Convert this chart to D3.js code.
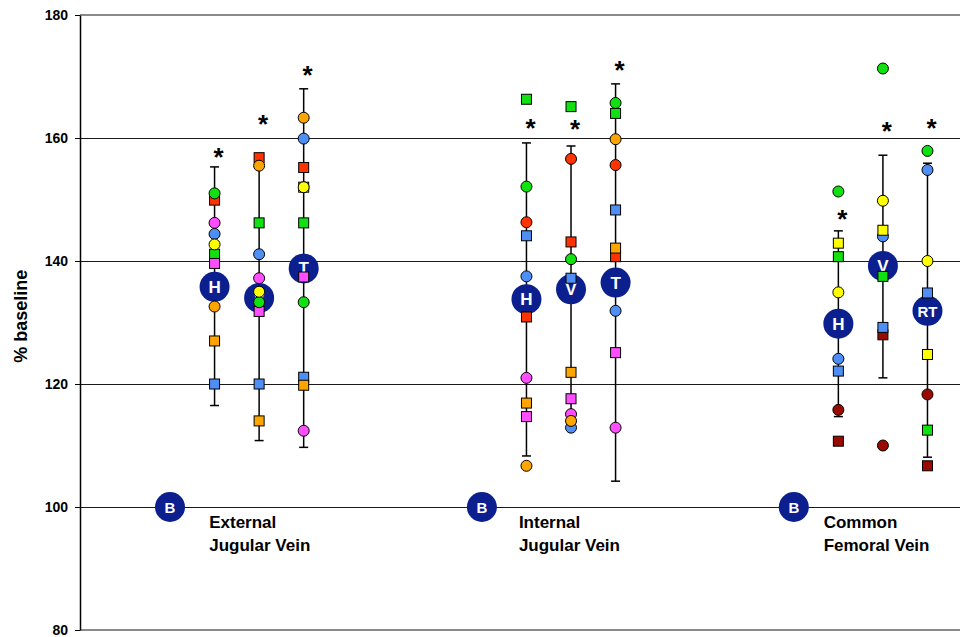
<!DOCTYPE html>
<html>
<head>
<meta charset="utf-8">
<script src="https://cdn.jsdelivr.net/npm/d3@7"></script>
<style>
  html, body { margin: 0; padding: 0; background: #fff; }
  svg { display: block; font-family: "Liberation Sans", Arial, sans-serif; }
</style>
</head>
<body>
<svg id="chart" width="960" height="637"></svg>
<script>
// ---------------- DATA ----------------
const groupNames = [["External", "Jugular Vein"], ["Internal", "Jugular Vein"], ["Common", "Femoral Vein"]];
const columnLabels = ["H", "V", "T", "H", "V", "T", "H", "V", "RT"];
const yTicks = [80, 100, 120, 140, 160, 180];
const baselineValue = 100;

const meanValues = [135.8, 134.0, 138.8, 133.8, 135.4, 136.5, 129.8, 139.2, 131.9];
const errorTop    = [155.3, 156.8, 168.0, 159.2, 158.7, 168.8, 144.9, 157.2, 155.9];
const errorBottom = [116.5, 110.8, 109.7, 108.3, 113.0, 104.2, 114.7, 121.0, 108.1];
const starValues  = [157.7, 163.1, 171.1, 162.4, 162.3, 171.9, 147.6, 162.0, 162.4];

// individual subjects (one value per column, null = not measured)
const redSquare     = [149.9, 156.8, 155.2, 130.9, 143.1, 140.7, null, null, null];
const darkredSquare = [null, null, null, null, null, null, 110.7, 128.0, 106.7];
const blueCircle    = [144.4, 141.1, 159.9, 137.5, 112.9, 131.9, 124.1, 144.0, 154.8];
const magentaCircle = [146.2, 137.2, 112.4, 121.0, 115.1, 112.9, null, null, null];
const greenSquare   = [141.1, 146.2, 146.2, 166.3, 165.1, 164.0, 140.7, 137.5, 112.5];
const magentaSquare = [139.6, 131.8, 137.4, 114.7, 117.6, 125.1, null, null, null];
const blueSquare    = [120.0, 120.0, 121.1, 144.1, 137.2, 148.3, 122.1, 129.2, 134.8];
const yellowSquare  = [null, null, 152.0, null, null, null, 142.9, 145.0, 124.8];
const orangeSquare  = [127.0, 114.0, 119.8, 116.9, 121.9, 142.1, null, null, null];
const greenCircle   = [151.0, 133.3, 133.3, 152.1, 140.3, 165.7, 151.3, 171.3, 157.9];
const redCircle     = [null, null, null, 146.3, 156.6, 155.6, null, null, null];
const yellowCircle  = [142.7, 135.0, 152.0, null, null, null, 134.9, 149.8, 140.0];
const orangeCircle  = [132.6, 155.5, 163.3, 106.7, 114.0, 159.8, null, null, null];
const darkredCircle = [null, null, null, null, null, null, 115.8, 110.0, 118.3];

const subjects = [
  { values: redSquare,     shape: "square", color: "#ff3300" },
  { values: darkredSquare, shape: "square", color: "#9a0a00" },
  { values: blueCircle,    shape: "circle", color: "#4f8ff5" },
  { values: magentaCircle, shape: "circle", color: "#ff4dff" },
  { values: greenSquare,   shape: "square", color: "#11e011" },
  { values: magentaSquare, shape: "square", color: "#ff4dff" },
  { values: blueSquare,    shape: "square", color: "#4f8ff5" },
  { values: yellowSquare,  shape: "square", color: "#ffff00" },
  { values: orangeSquare,  shape: "square", color: "#ffa500" },
  { values: greenCircle,   shape: "circle", color: "#11e011" },
  { values: redCircle,     shape: "circle", color: "#ff3300" },
  { values: yellowCircle,  shape: "circle", color: "#ffff00" },
  { values: orangeCircle,  shape: "circle", color: "#ffa500" },
  { values: darkredCircle, shape: "circle", color: "#9a0a00" }
];

// ---------------- LAYOUT ----------------
const W = 960, H = 637;
const plotLeft = 80, plotRight = 960, plotTop = 15, plotBottom = 630;
const slotsPerGroup = 7;               // B, H, V, T columns spaced evenly
const navy = "#0b1f8e";

const svg = d3.select("#chart");

const y = d3.scaleLinear().domain([80, 180]).range([plotBottom, plotTop]);
const x = d3.scaleLinear().domain([-2.02, 17.73]).range([plotLeft, plotRight]);

const baselineSlot = g => g * slotsPerGroup;
const colSlot = c => Math.floor(c / 3) * slotsPerGroup + 1 + (c % 3);

// gridlines
const grid = svg.append("g");
yTicks.forEach(t => {
  const edge = (t === 80 || t === 180);
  grid.append("line")
    .attr("x1", plotLeft).attr("x2", plotRight)
    .attr("y1", Math.round(y(t)) + (edge ? 0 : 0.5))
    .attr("y2", Math.round(y(t)) + (edge ? 0 : 0.5))
    .attr("stroke", edge ? "#8a8a8a" : "#1a1a1a")
    .attr("stroke-width", edge ? 2 : 1);
});

// y axis
const yAxis = d3.axisLeft(y).tickValues(yTicks).tickSize(5).tickSizeOuter(0).tickPadding(7)
  .tickFormat(d3.format("d"));
const ax = svg.append("g").attr("transform", `translate(${plotLeft},0)`).call(yAxis);
ax.select(".domain").attr("stroke", "#000").attr("stroke-width", 1.5);
ax.selectAll(".tick line").attr("stroke", "#000");
ax.selectAll(".tick text")
  .attr("font-family", "Liberation Sans, Arial, sans-serif")
  .attr("font-size", 14).attr("font-weight", "bold").attr("fill", "#000");

// y label
svg.append("text")
  .attr("transform", `translate(27,${y(131)}) rotate(-90)`)
  .attr("text-anchor", "middle")
  .attr("font-size", 18).attr("font-weight", "bold")
  .text("% baseline");

// error bars
const eb = svg.append("g").attr("stroke", "#000").attr("stroke-width", 1.5);
columnLabels.forEach((lab, c) => {
  const cx = x(colSlot(c));
  eb.append("line").attr("x1", cx).attr("x2", cx).attr("y1", y(errorTop[c])).attr("y2", y(errorBottom[c]));
  [errorTop[c], errorBottom[c]].forEach(v => {
    eb.append("line").attr("x1", cx - 4.5).attr("x2", cx + 4.5).attr("y1", y(v)).attr("y2", y(v));
  });
});

// baseline markers and group labels
groupNames.forEach((g, i) => {
  const bx = x(baselineSlot(i));
  svg.append("circle").attr("cx", bx).attr("cy", y(baselineValue)).attr("r", 15).attr("fill", navy);
  svg.append("text").attr("x", bx).attr("y", y(baselineValue) + 5.5)
    .attr("text-anchor", "middle").attr("fill", "#fff")
    .attr("font-size", 15).attr("font-weight", "bold").text("B");
  const labelOffsets = [0.88, 0.83, 0.67];
  const lx = x(baselineSlot(i) + labelOffsets[i]);
  const t = svg.append("text").attr("font-size", 17).attr("font-weight", "bold").attr("fill", "#000");
  t.append("tspan").attr("x", lx).attr("y", 528).text(g[0]);
  t.append("tspan").attr("x", lx).attr("y", 551).text(g[1]);
});

// mean markers
columnLabels.forEach((lab, c) => {
  const cx = x(colSlot(c)), cy = y(meanValues[c]);
  svg.append("circle").attr("cx", cx).attr("cy", cy).attr("r", 15).attr("fill", navy);
  svg.append("text").attr("x", cx).attr("y", cy + 6)
    .attr("text-anchor", "middle").attr("fill", "#fff")
    .attr("font-size", lab.length > 1 ? 15 : 17).attr("font-weight", "bold").text(lab);
});

// individual points
const pts = svg.append("g").attr("stroke", "#000").attr("stroke-width", 1);
subjects.forEach(s => {
  s.values.forEach((v, c) => {
    if (v == null) return;
    const cx = x(colSlot(c)), cy = y(v);
    if (s.shape === "circle") {
      pts.append("circle").attr("cx", cx).attr("cy", cy).attr("r", 5.5).attr("fill", s.color);
    } else {
      pts.append("rect").attr("x", cx - 5).attr("y", cy - 5).attr("width", 10).attr("height", 10).attr("fill", s.color);
    }
  });
});

// significance stars
columnLabels.forEach((lab, c) => {
  svg.append("text")
    .attr("x", x(colSlot(c)) + 4)
    .attr("y", y(starValues[c]) + 14)
    .attr("text-anchor", "middle")
    .attr("font-size", 26).attr("font-weight", "bold").attr("fill", "#000")
    .text("*");
});
</script>
</body>
</html>
